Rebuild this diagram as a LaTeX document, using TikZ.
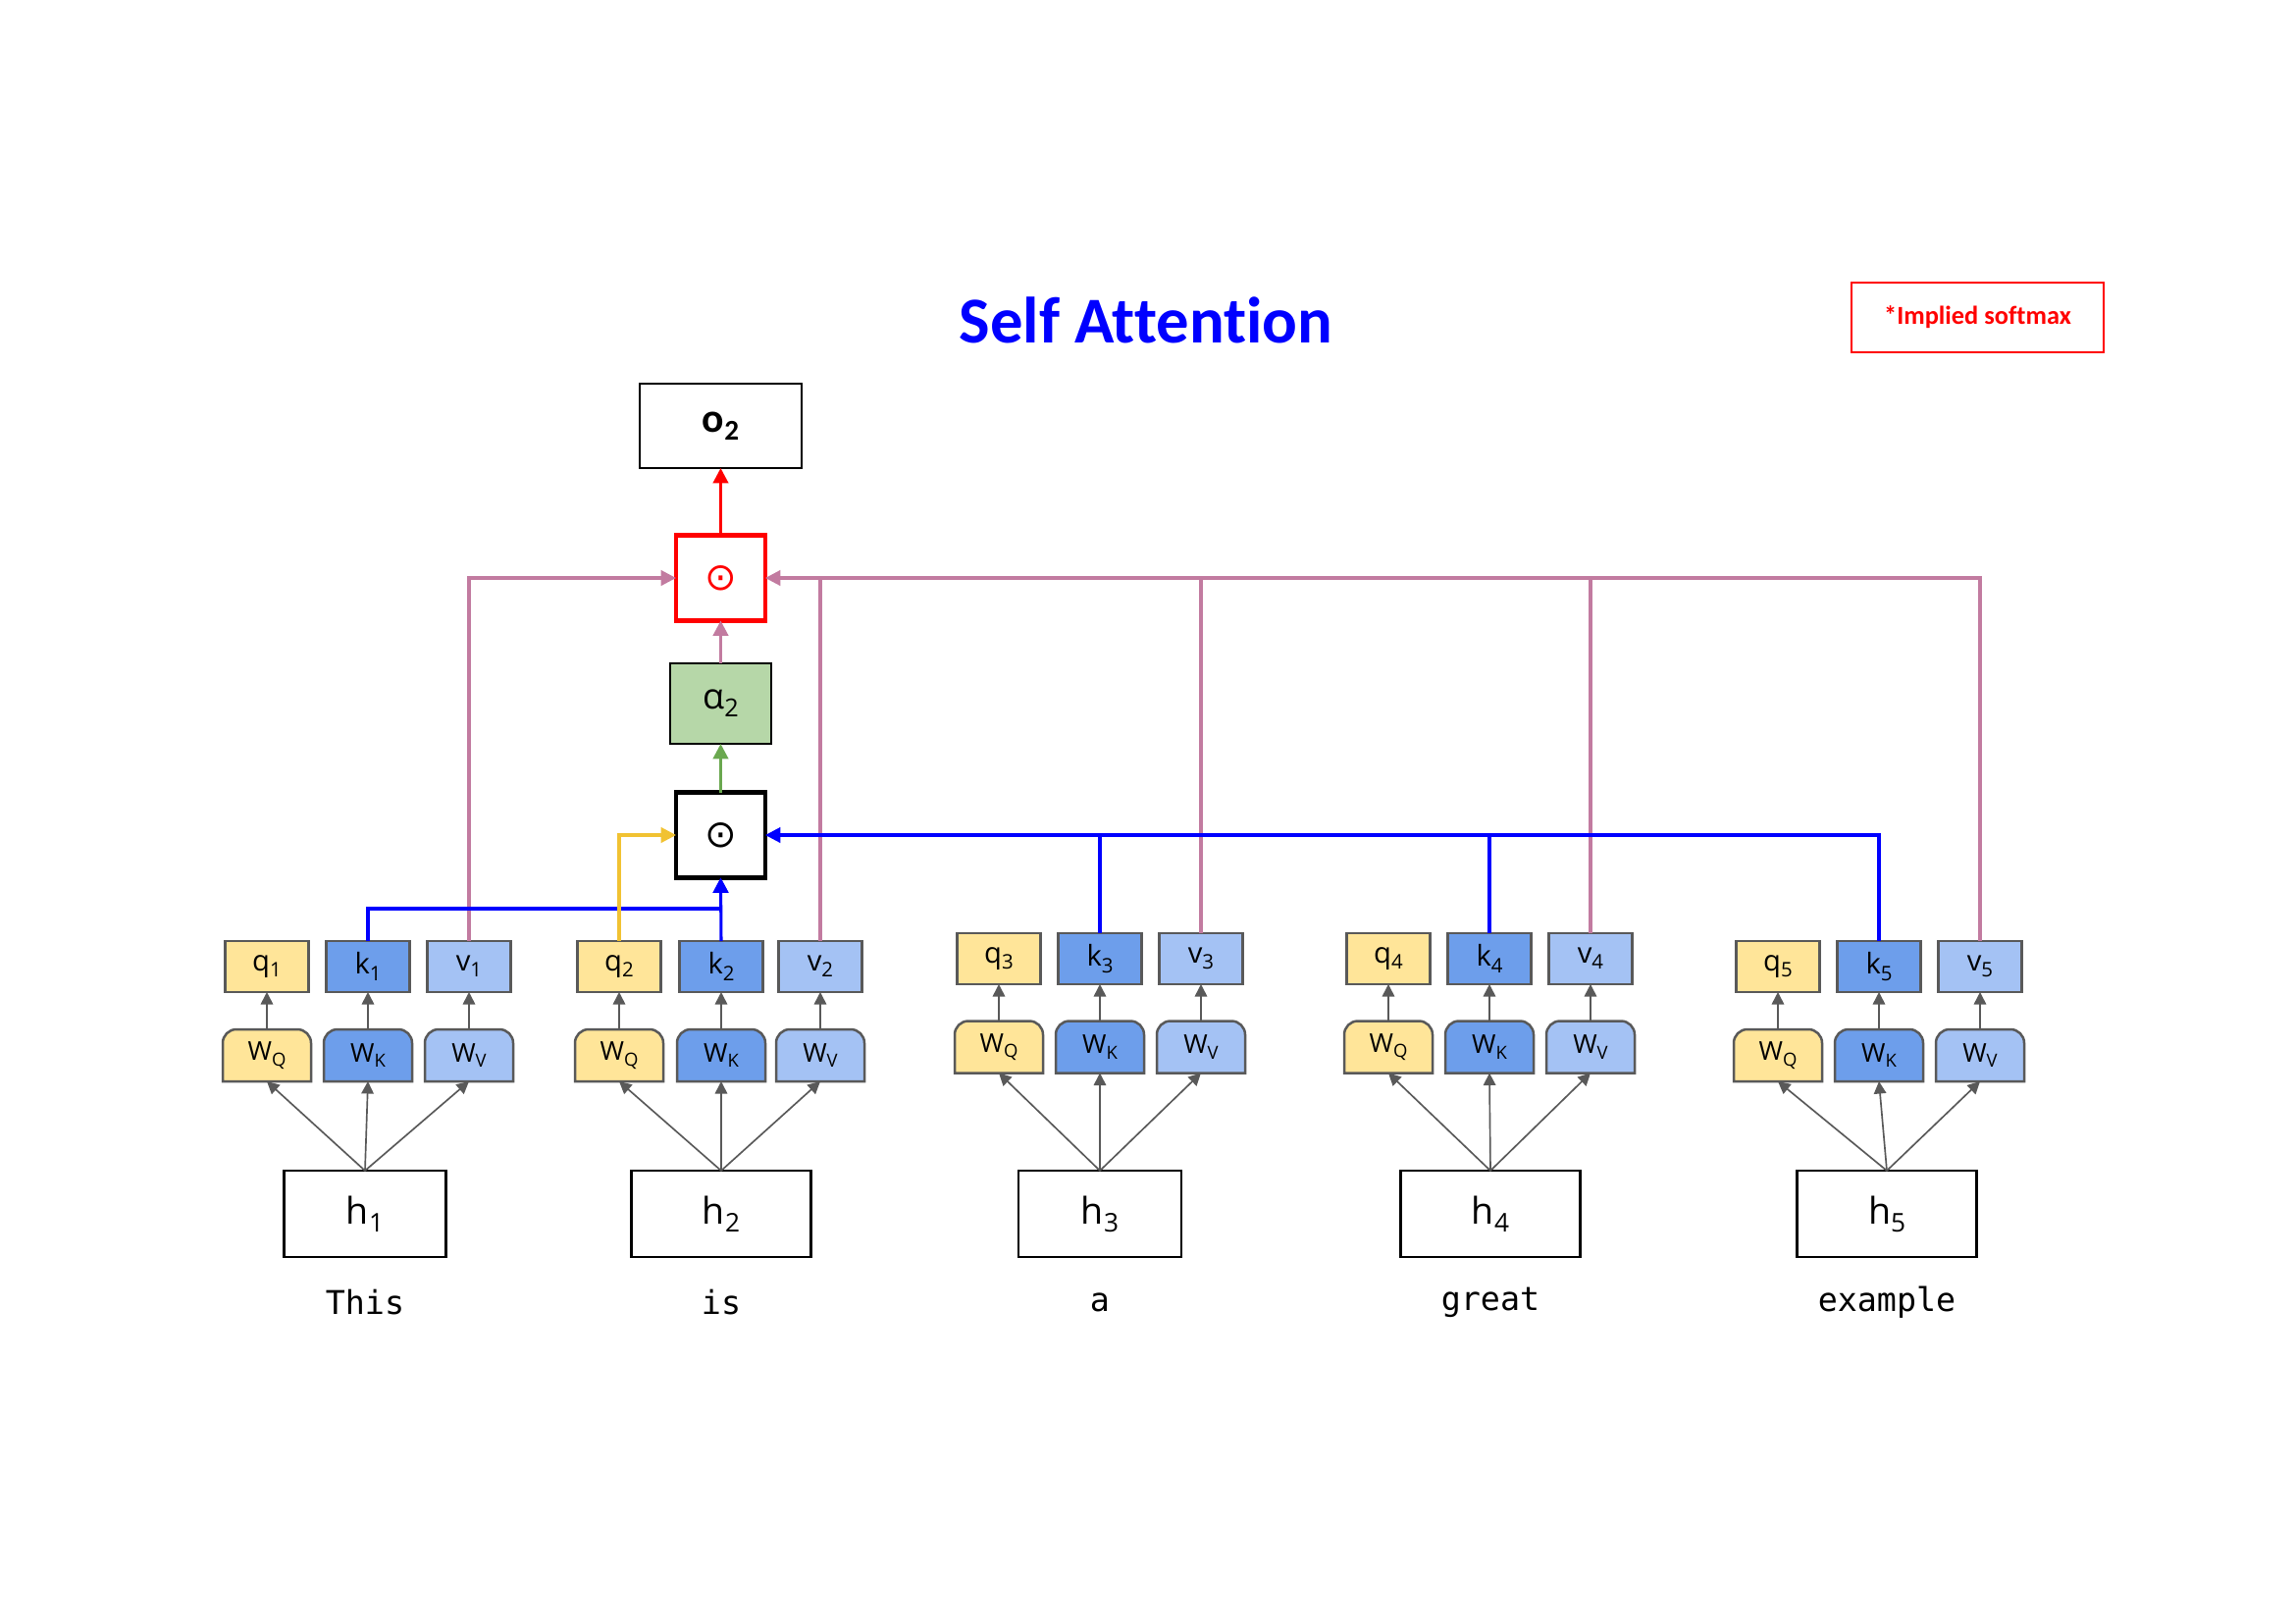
\documentclass[tikz,border=0pt]{standalone}
\usepackage{fontspec}
\setmainfont{Open Sans}
\newfontfamily\carl[Ligatures=CommonOff]{Carlito}
\newfontfamily\monof{DejaVu Sans Mono}
\newfontfamily\djv{DejaVu Sans}
\usetikzlibrary{arrows.meta,calc,backgrounds}
\definecolor{qyel}{HTML}{FFE599}
\definecolor{kblue}{HTML}{6D9EEB}
\definecolor{vblue}{HTML}{A4C2F4}
\definecolor{bgrey}{HTML}{595959}
\definecolor{agreen}{HTML}{B6D7A8}
\definecolor{pinkl}{HTML}{C27BA0}
\definecolor{yell}{HTML}{F1C232}
\definecolor{greenl}{HTML}{6AA84F}
\definecolor{pureblue}{HTML}{0000FF}
\def\pxu{0.36pt}
\makeatletter
\newcommand\sbs[1]{\raisebox{-0.4ex}{\fontsize{\dimexpr0.7\dimexpr\f@size pt\relax\relax}{1em}\selectfont #1}}
\makeatother
\newcommand\wb[5]{%
  \node[wnode] (#1) at (#2,#3) {W\sbs{#5}};
  \begin{pgfonlayer}{background}
    \filldraw[fill=#4, draw=bgrey, line width=0.9pt]
      (#1.south west) -- ($(#1.north west)+(0,-5pt)$)
      arc[start angle=180,end angle=90,radius=5pt]
      -- ($(#1.north east)+(-5pt,0)$)
      arc[start angle=90,end angle=0,radius=5pt]
      -- (#1.south east) -- cycle;
  \end{pgfonlayer}
}
\newcommand\grp[9]{%
  \node[qbox] (q#1) at (#2,#5) {q\sbs{#1}};
  \node[kbox] (k#1) at (#3,#5) {k\sbs{#1}};
  \node[vbox] (v#1) at (#4,#5) {v\sbs{#1}};
  \wb{wq#1}{#2}{#6}{qyel}{Q}
  \wb{wk#1}{#3}{#6}{kblue}{K}
  \wb{wv#1}{#4}{#6}{vblue}{V}
  \node[hbox, minimum width={#8*\pxu}] (h#1) at (#7,1237) {h\sbs{#1}};
  \node[word] (w#1) at (#7,1327) {#9};
  \draw[garrow] (h#1.north) -- (wq#1.south);
  \draw[garrow] (h#1.north) -- (wk#1.south);
  \draw[garrow] (h#1.north) -- (wv#1.south);
  \draw[garrow] (wq#1.north) -- (q#1.south);
  \draw[garrow] (wk#1.north) -- (k#1.south);
  \draw[garrow] (wv#1.north) -- (v#1.south);
}
\begin{document}
\begin{tikzpicture}[x=0.36pt,y=-0.36pt,
  base/.style={draw=bgrey, line width=0.9pt, inner sep=0pt, outer sep=0pt, font=\fontsize{10.5}{11}\selectfont},
  qbox/.style={base, fill=qyel, minimum width={85*\pxu}, minimum height={52*\pxu}},
  kbox/.style={qbox, fill=kblue},
  vbox/.style={qbox, fill=vblue},
  wnode/.style={inner sep=0pt, outer sep=0pt, minimum width={90*\pxu}, minimum height={53*\pxu}, font=\fontsize{9.5}{10}\selectfont},
  hbox/.style={draw=black, line width=0.8pt, minimum height={88*\pxu}, inner sep=0pt, outer sep=0pt, font=\fontsize{13.5}{14}\selectfont},
  word/.style={font=\monof\fontsize{12}{13}\selectfont},
  garrow/.style={draw=bgrey, line width=0.6pt, -{Triangle[length=4.5pt,width=4.5pt]}},
  cline/.style={line width=1.1pt},
  carrow/.style={cline, -{Triangle[length=5.5pt,width=5.5pt]}},
  opbox/.style={line width=1.7pt, minimum width={91*\pxu}, minimum height={87*\pxu}, inner sep=0pt, outer sep=0pt, font=\djv\fontsize{14}{14}\selectfont}
]
\useasboundingbox (0,0) rectangle (2339,1654);

\node[font=\carl\bfseries\fontsize{24}{28}\selectfont, text=pureblue] (title) at (1168,326) {Self Attention};
\node[draw=red, line width=0.9pt, minimum width={257*\pxu}, minimum height={71*\pxu}, inner sep=0pt, text=red, font=\carl\bfseries\fontsize{9.5}{11}\selectfont] (soft) at (2015.5,323.5) {*Implied softmax};

\node[draw=black, line width=0.8pt, minimum width={165*\pxu}, minimum height={86*\pxu}, inner sep=0pt, outer sep=0pt, font=\carl\bfseries\fontsize{15}{16}\selectfont] (o2) at (734.5,434) {o\sbs{2}};
\node[opbox, draw=red, text=red] (red) at (734.5,589) {⊙};
\node[draw=black, line width=0.8pt, fill=agreen, minimum width={103*\pxu}, minimum height={82*\pxu}, inner sep=0pt, outer sep=0pt, font=\fontsize{13}{14}\selectfont] (alpha) at (734.5,717) {α\sbs{2}};
\node[opbox, draw=black] (black) at (734.5,851) {⊙};

\grp{1}{272}{375}{478}{985}{1075.5}{372}{165}{This}
\grp{2}{631}{735}{836}{985}{1075.5}{735}{183}{is}
\grp{3}{1018}{1121}{1224}{977}{1067}{1121}{166}{a}
\grp{4}{1415}{1518}{1621}{977}{1067}{1519}{183}{great}
\grp{5}{1812}{1915}{2018}{985}{1075.5}{1923}{183}{example}

% value lines (pink)
\draw[carrow, pinkl] (v1.north) |- (red.west);
\draw[cline, pinkl] (v2.north) -- (v2.north |- red.east);
\draw[cline, pinkl] (v3.north) -- (v3.north |- red.east);
\draw[cline, pinkl] (v4.north) -- (v4.north |- red.east);
\draw[carrow, pinkl] (v5.north) |- (red.east);

% key lines (blue)
\coordinate (kb) at (734.5,926);
\draw[carrow, pureblue] (k1.north) |- (kb) -- (black.south);
\draw[carrow, pureblue] (k2.north) -- (black.south);
\draw[cline, pureblue] (k3.north) -- (k3.north |- black.east);
\draw[cline, pureblue] (k4.north) -- (k4.north |- black.east);
\draw[carrow, pureblue] (k5.north) |- (black.east);

% query line (yellow)
\draw[carrow, yell] (q2.north) |- (black.west);

% vertical chain
\draw[carrow, greenl] (black.north) -- (alpha.south);
\draw[carrow, pinkl] (alpha.north) -- (red.south);
\draw[carrow, red] (red.north) -- (o2.south);
\end{tikzpicture}
\end{document}
